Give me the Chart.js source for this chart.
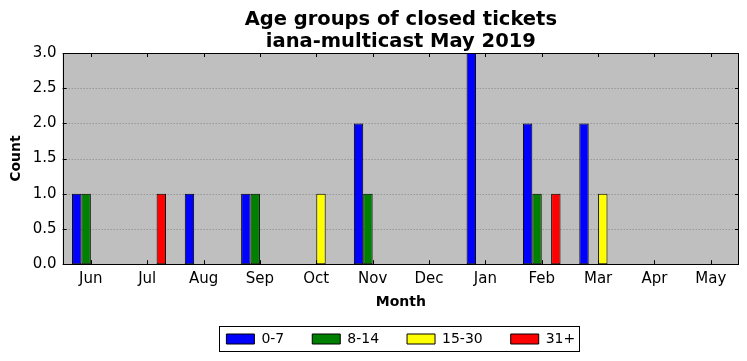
<!DOCTYPE html>
<html><head><meta charset="utf-8">
<script src="https://cdn.jsdelivr.net/npm/chart.js@4.4.0/dist/chart.umd.min.js"></script>
<style>html,body{margin:0;padding:0;background:#fff}canvas{display:block}</style>
</head><body>
<canvas id="c" width="747" height="361"></canvas>
<script>
const months = ["Jun","Jul","Aug","Sep","Oct","Nov","Dec","Jan","Feb","Mar","Apr","May"];
const group0to7 = [1,0,1,1,0,2,0,3,2,2,0,0];
const group8to14 = [1,0,0,1,0,1,0,0,1,0,0,0];
const group15to30 = [0,0,0,0,1,0,0,0,0,1,0,0];
const group31plus = [0,1,0,0,0,0,0,0,1,0,0,0];
const seriesNames = ["0-7","8-14","15-30","31+"];
const seriesColors = ["#0000ff","#008000","#ffff00","#ff0000"];
const titleLines = ["Age groups of closed tickets","iana-multicast May 2019"];

const FONT = "'DejaVu Sans', sans-serif";
Chart.defaults.font.family = FONT;
Chart.defaults.color = "#000";

const values = [group0to7, group8to14, group15to30, group31plus];
const datasets = values.map((v,i)=>({
  label: seriesNames[i], data: v, backgroundColor: seriesColors[i],
  borderColor: "#000", borderWidth: 1, borderSkipped: false,
  categoryPercentage: 0.667, barPercentage: 1.0
}));

const frame = {
  id: 'frame',
  afterLayout(chart){
    const lg = chart.legend, a = chart.chartArea;
    if (!lg) return;
    const shift = (a.left + a.right)/2 - (lg.left + lg.right)/2;
    lg.left += shift; lg.right += shift;
  },
  beforeDatasetsDraw(chart){
    const a = chart.chartArea, ctx = chart.ctx;
    ctx.save();
    ctx.fillStyle = '#bfbfbf';
    ctx.fillRect(a.left, a.top, a.right-a.left, a.bottom-a.top);
    const y = chart.scales.y;
    ctx.strokeStyle = 'rgba(0,0,0,0.3)'; ctx.lineWidth = 1; ctx.setLineDash([1,2]);
    y.ticks.forEach((t,i)=>{
      const py = Math.round(y.getPixelForTick(i))+0.5;
      if (py <= a.top+1 || py >= a.bottom-1) return;
      ctx.beginPath(); ctx.moveTo(a.left, py); ctx.lineTo(a.right, py); ctx.stroke();
    });
    ctx.restore();
  },
  afterDatasetsDraw(chart){
    const a = chart.chartArea, ctx = chart.ctx;
    ctx.save();
    ctx.strokeStyle = '#000'; ctx.lineWidth = 1;
    const x = chart.scales.x, y = chart.scales.y;
    const L = 4;
    ctx.beginPath();
    x.ticks.forEach((t,i)=>{
      const px = Math.round(x.getPixelForTick(i))+0.5;
      ctx.moveTo(px, a.bottom); ctx.lineTo(px, a.bottom-L);
      ctx.moveTo(px, a.top); ctx.lineTo(px, a.top+L);
    });
    y.ticks.forEach((t,i)=>{
      const py = Math.round(y.getPixelForTick(i))+0.5;
      ctx.moveTo(a.left, py); ctx.lineTo(a.left+L, py);
      ctx.moveTo(a.right, py); ctx.lineTo(a.right-L, py);
    });
    ctx.stroke();
    ctx.strokeRect(Math.round(a.left)+0.5, Math.round(a.top)+0.5, Math.round(a.right-a.left)-1, Math.round(a.bottom-a.top));
    // title centred over the plot area
    ctx.fillStyle = '#000';
    ctx.font = "bold 19.5px " + FONT;
    ctx.textAlign = 'center'; ctx.textBaseline = 'alphabetic';
    const cx = (a.left + a.right) / 2;
    ctx.fillText(titleLines[0], cx, 25);
    ctx.fillText(titleLines[1], cx, 47);
    // legend border
    const lg = chart.legend;
    if (lg && lg.legendHitBoxes && lg.legendHitBoxes.length){
      const hb = lg.legendHitBoxes;
      let l = Math.min(...hb.map(h=>h.left)), r = Math.max(...hb.map(h=>h.left+h.width));
      let t = Math.min(...hb.map(h=>h.top)), b = Math.max(...hb.map(h=>h.top+h.height));
      ctx.strokeStyle = '#000';
      ctx.strokeRect(Math.round(l-7)+0.5, Math.round(t-6)+0.5, Math.round(r-l+11), Math.round(b-t+11));
    }
    ctx.restore();
  }
};

new Chart(document.getElementById('c'), {
  type: 'bar',
  data: { labels: months, datasets },
  options: {
    responsive: false, animation: false, devicePixelRatio: 1,
    layout: { padding: { left: 8, right: 8, top: 53, bottom: 5 } },
    plugins: {
      title: { display: false },
      legend: { position: 'bottom', labels: { boxWidth: 28, boxHeight: 10, font: { size: 14 }, padding: 28, color: '#000' } },
      tooltip: { enabled: false }
    },
    scales: {
      x: {
        offset: true,
        grid: { display: false, drawTicks: false },
        border: { display: false },
        ticks: { font: { size: 15 }, padding: 6, color: '#000', maxRotation: 0 },
        title: { display: true, text: 'Month', font: { size: 14, weight: 'bold' }, padding: { top: 0, bottom: -7 }, color: '#000' }
      },
      y: {
        min: 0, max: 3,
        grid: { display: false, drawTicks: false },
        border: { display: false },
        ticks: { stepSize: 0.5, font: { size: 15 }, padding: 6, color: '#000', callback: v => Number(v).toFixed(1) },
        title: { display: true, text: 'Count', font: { size: 14, weight: 'bold' }, padding: { top: 0, bottom: 2 }, color: '#000' }
      }
    }
  },
  plugins: [frame]
});
</script>
</body></html>
